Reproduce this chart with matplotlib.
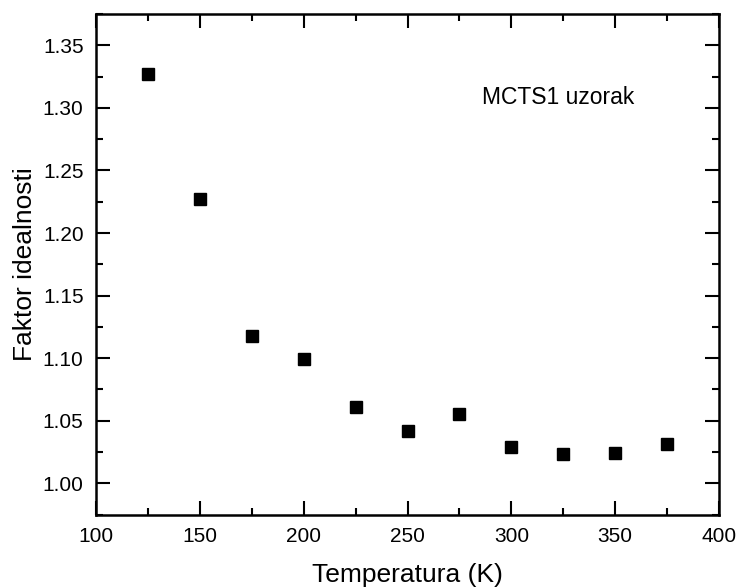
import matplotlib
matplotlib.use("Agg")
import matplotlib.pyplot as plt
from matplotlib.ticker import MultipleLocator, FormatStrFormatter

# temperature (K) and ideality factor
temperature = [125, 150, 175, 200, 225, 250, 275, 300, 325, 350, 375]
ideality = [1.327, 1.227, 1.118, 1.099, 1.061, 1.042, 1.055, 1.029, 1.023, 1.024, 1.031]

plt.rcParams["font.family"] = ["Liberation Sans", "DejaVu Sans"]

fig = plt.figure(figsize=(7.39, 5.88), dpi=100)
ax = fig.add_axes([0.130, 0.125, 0.843, 0.851])

ax.plot(temperature, ideality, linestyle="none", marker="s",
        markersize=8, color="black")

ax.set_xlim(100, 400)
ax.set_ylim(0.975, 1.375)
ax.xaxis.set_major_locator(MultipleLocator(50))
ax.xaxis.set_minor_locator(MultipleLocator(25))
ax.yaxis.set_major_locator(MultipleLocator(0.05))
ax.yaxis.set_minor_locator(MultipleLocator(0.025))
ax.yaxis.set_major_formatter(FormatStrFormatter("%.2f"))

ax.tick_params(which="both", direction="in", top=True, right=True,
               width=1.5, labelsize=15)
ax.tick_params(which="major", length=10, pad=9)
ax.tick_params(which="minor", length=5)
for sp in ax.spines.values():
    sp.set_linewidth(1.8)

ax.set_xlabel("Temperatura (K)", fontsize=19, labelpad=12)
ax.set_ylabel("Faktor idealnosti", fontsize=19, labelpad=4)
ax.text(286, 1.308, "MCTS1 uzorak", fontsize=16.5, va="center", ha="left")

fig.savefig("out.png", dpi=100, facecolor="white")
